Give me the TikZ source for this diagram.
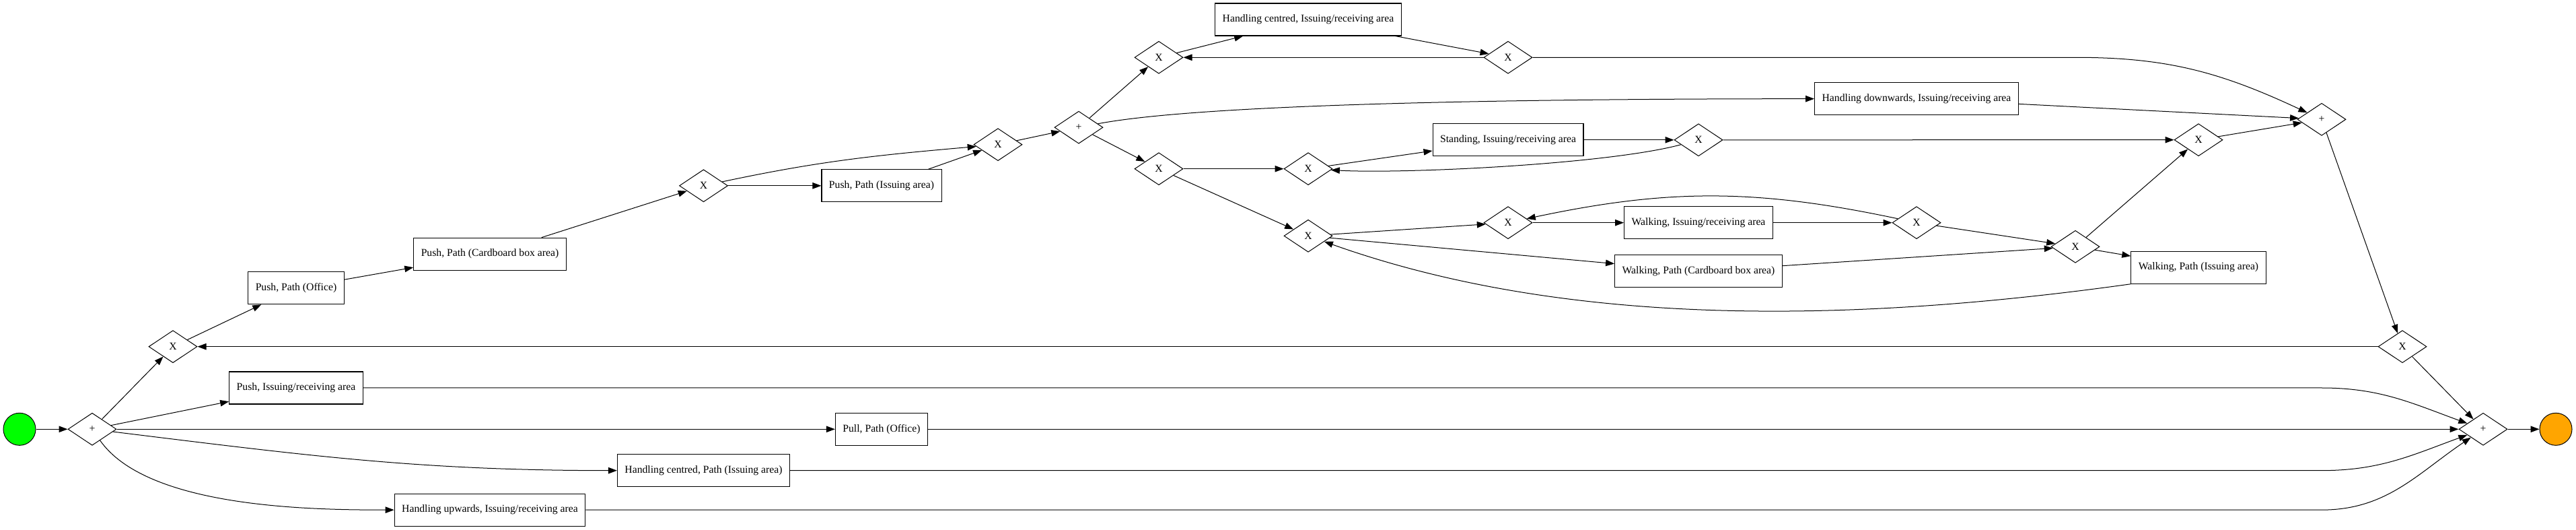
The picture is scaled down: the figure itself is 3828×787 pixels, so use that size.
\documentclass[tikz,border=0pt]{standalone}
\usepackage{fontspec}
\setmainfont{Liberation Serif}
\usetikzlibrary{shapes.geometric,arrows.meta}
\definecolor{startgreen}{RGB}{0,255,0}
\definecolor{endorange}{RGB}{255,165,0}

\begin{document}
\begin{tikzpicture}
[
    x=1pt, y=1pt,
    every node/.style={font=\fontsize{15.7}{18}\selectfont},
    task/.style={draw, line width=1.1pt, rectangle, minimum height=48pt, inner xsep=11pt, inner ysep=0pt},
    gate/.style={draw, line width=1pt, diamond, minimum width=72pt, minimum height=48pt, inner sep=0pt},
    event/.style={draw, line width=1pt, circle, minimum size=48pt, inner sep=0pt},
    flow/.style={line width=1pt, -{Triangle[length=13pt,width=9.5pt]}},
]
\useasboundingbox (0,0) rectangle (3828,787);

\node[event, fill=startgreen] (start) at (29,149.7) {};
\node[gate] (andSplit) at (137,149.7) {+};
\node[gate] (xorPush) at (257,272.3) {X};
\node[task] (pushOffice) at (440,359.2) {Push, Path (Office)};
\node[task] (pushCardboard) at (728,409.8) {Push, Path (Cardboard box area)};
\node[gate] (xorPushIssue) at (1045.5,511.2) {X};
\node[task] (pushIssuing) at (1310,511.2) {Push, Path (Issuing area)};
\node[gate] (xorPushJoin) at (1483,572.3) {X};
\node[gate] (andInner) at (1603,597.8) {+};
\node[gate] (xorCentred) at (1722,701.7) {X};
\node[task] (handCentred) at (1944,758) {Handling centred, Issuing/receiving area};
\node[gate] (xorCentredLoop) at (2241,701.7) {X};
\node[task] (handDown) at (2848,640.3) {Handling downwards, Issuing/receiving area};
\node[gate] (xorInner) at (1722,536.3) {X};
\node[gate] (xorStand) at (1944,536.3) {X};
\node[task] (standing) at (2241,579.2) {Standing, Issuing/receiving area};
\node[gate] (xorStandLoop) at (2524,579.2) {X};
\node[gate] (xorWalk) at (1944,436.7) {X};
\node[gate] (xorWalkIss) at (2241,456.3) {X};
\node[task] (walkIssuing) at (2524,456.3) {Walking, Issuing/receiving area};
\node[gate] (xorWalkIssLoop) at (2848,456.3) {X};
\node[task] (walkCardboard) at (2524,384.2) {Walking, Path (Cardboard box area)};
\node[gate] (xorWalkJoin) at (3084,420.7) {X};
\node[task] (walkPath) at (3267,389.8) {Walking, Path (Issuing area)};
\node[gate] (xorInnerJoin) at (3267,579.3) {X};
\node[gate] (andInnerJoin) at (3450,609.7) {+};
\node[gate] (xorRepeat) at (3570,272.3) {X};
\node[gate] (andJoin) at (3690,149.7) {+};
\node[event, fill=endorange] (stop) at (3798,149.7) {};
\node[task] (pushRecv) at (440,211) {Push, Issuing/receiving area};
\node[task] (pullOffice) at (1310,149.7) {Pull, Path (Office)};
\node[task] (handCentredPath) at (1045.5,88.3) {Handling centred, Path (Issuing area)};
\node[task] (handUp) at (728,29.8) {Handling upwards, Issuing/receiving area};

\draw[flow] (start) -- (andSplit);
\draw[flow] (andSplit) -- (xorPush);
\draw[flow] (andSplit) -- (pushRecv);
\draw[flow] (andSplit) -- (pullOffice);
\draw[flow] (andSplit) to[out=-7,in=180] (handCentredPath);
\draw[flow] (andSplit) to[out=-55,in=180,looseness=0.7] (handUp);
\draw[flow] (xorPush) -- (pushOffice);
\draw[flow] (pushOffice) -- (pushCardboard);
\draw[flow] (pushCardboard) -- (xorPushIssue);
\draw[flow] (xorPushIssue) -- (pushIssuing);
\draw[flow] (xorPushIssue) to[out=12,in=185] (xorPushJoin);
\draw[flow] (pushIssuing) -- (xorPushJoin);
\draw[flow] (xorPushJoin) -- (andInner);
\draw[flow] (andInner) -- (xorCentred);
\draw[flow] (andInner) .. controls +(200,38) and +(-500,0) .. (handDown);
\draw[flow] (andInner) -- (xorInner);
\draw[flow] (xorCentred) -- (handCentred);
\draw[flow] (handCentred) -- (xorCentredLoop);
\draw[flow] (xorCentredLoop) -- (xorCentred);
\draw[flow] (xorCentredLoop) -- ++(845,0) to[out=0,in=155] (andInnerJoin);
\draw[flow] (handDown) -- (andInnerJoin);
\draw[flow] (xorInner) -- (xorStand);
\draw[flow] (xorInner) -- (xorWalk);
\draw[flow] (xorStand) -- (standing);
\draw[flow] (standing) -- (xorStandLoop);
\draw[flow] (xorStandLoop) to[out=195,in=-3,looseness=0.55] (xorStand);
\draw[flow] (xorStandLoop) -- (xorInnerJoin);
\draw[flow] (xorWalk) -- (xorWalkIss);
\draw[flow] (xorWalk) -- (walkCardboard);
\draw[flow] (xorWalkIss) -- (walkIssuing);
\draw[flow] (walkIssuing) -- (xorWalkIssLoop);
\draw[flow] (xorWalkIssLoop) to[out=168,in=12] (xorWalkIss);
\draw[flow] (xorWalkIssLoop) -- (xorWalkJoin);
\draw[flow] (walkCardboard) -- (xorWalkJoin);
\draw[flow] (xorWalkJoin) -- (xorInnerJoin);
\draw[flow] (xorWalkJoin) -- (walkPath);
\draw[flow] (walkPath.south west) .. controls (2700,300) and (2300,310) .. (xorWalk);
\draw[flow] (xorInnerJoin) -- (andInnerJoin);
\draw[flow] (andInnerJoin) -- (xorRepeat);
\draw[flow] (xorRepeat) -- (xorPush);
\draw[flow] (xorRepeat) -- (andJoin);
\draw[flow] (pushRecv) -- (pushRecv -| andInnerJoin) to[out=0,in=160] (andJoin);
\draw[flow] (pullOffice) -- (andJoin);
\draw[flow] (handCentredPath) -- (handCentredPath -| andInnerJoin) to[out=0,in=200] (andJoin);
\draw[flow] (handUp) -- (handUp -| andInnerJoin) to[out=0,in=214] (andJoin);
\draw[flow] (andJoin) -- (stop);
\end{tikzpicture}
\end{document}
